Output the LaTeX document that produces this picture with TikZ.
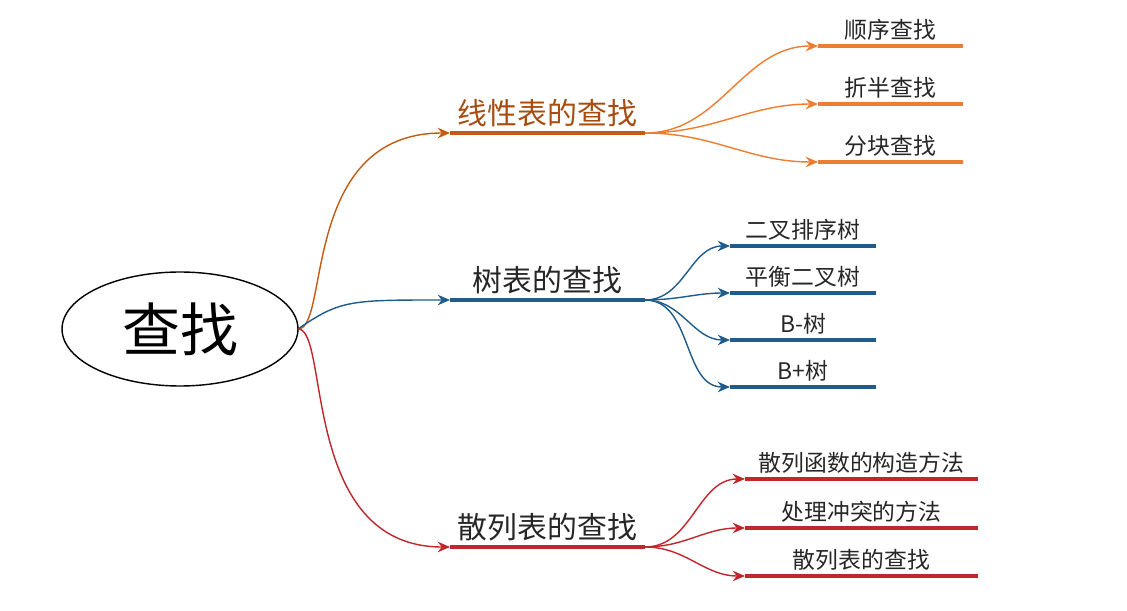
\documentclass[tikz,border=0pt]{standalone}
\usepackage{fontspec}
\setmainfont{Noto Sans CJK SC}
\usetikzlibrary{arrows.meta,shapes.geometric}
\definecolor{orng}{HTML}{ED7D31}
\definecolor{orngd}{HTML}{C55A11}
\definecolor{blu}{HTML}{1F5C8B}
\definecolor{rd}{HTML}{C0272D}
\begin{document}
\begin{tikzpicture}[x=0.02cm,y=-0.02cm,line cap=butt]
	  \tikzstyle{link} = [-{Stealth[length=7pt,width=6pt]},thick]
	  \tikzstyle{bar} = [line width=2.5pt]
	  \tikzstyle{big} = [font=\fontsize{17}{20}\selectfont,anchor=south,inner sep=2pt]
	  \tikzstyle{small} = [font=\fontsize{13}{15}\selectfont,anchor=south,inner sep=2pt]
	  \useasboundingbox (0,0) rectangle (1127,611);
	  \node (0_0) [draw,thick,ellipse,minimum width=4.72cm,minimum height=2.28cm,font=\fontsize{33}{38}\selectfont] at (180,329) {查找};
	  \coordinate (0_1) at (298,329);
	  % level 1
	  \coordinate (1_1) at (450,133); \coordinate (1_1e) at (645,133);
	  \coordinate (1_2) at (450,300); \coordinate (1_2e) at (645,300);
	  \coordinate (1_3) at (450,547); \coordinate (1_3e) at (645,547);
	  \draw[bar,orngd] (1_1) -- (1_1e) node (1_1t) [big,midway,orngd!85!black] {线性表的查找};
	  \draw[bar,blu] (1_2) -- (1_2e) node (1_2t) [big,midway,black!85] {树表的查找};
	  \draw[bar,rd] (1_3) -- (1_3e) node (1_3t) [big,midway,black!85] {散列表的查找};
	  \draw[link,orngd] (0_1) .. controls (330,329) and (300,133) .. (1_1);
	  \draw[link,blu] (0_1) .. controls (340,300) and (350,300) .. (1_2);
	  \draw[link,rd] (0_1) .. controls (330,329) and (300,547) .. (1_3);
	  % level 2
	  \foreach \y/\t [count=\i] in {46/顺序查找,104/折半查找,162/分块查找} {
	    \coordinate (2_\i) at (818,\y);
	    \draw[bar,orng] (2_\i) -- (963,\y) node (2_\i t) [small,midway,black!85] {\t};
	    \draw[link,orng] (1_1e) to[out=0,in=180] (2_\i);
	  }
	  \foreach \y/\t [count=\i] in {246/二叉排序树,293/平衡二叉树,340/B-树,387/B+树} {
	    \coordinate (3_\i) at (730,\y);
	    \draw[bar,blu] (3_\i) -- (876,\y) node (3_\i t) [small,midway,black!85] {\t};
	    \draw[link,blu] (1_2e) to[out=0,in=180] (3_\i);
	  }
	  \foreach \y/\t [count=\i] in {479/散列函数的构造方法,528/处理冲突的方法,576/散列表的查找} {
	    \coordinate (4_\i) at (745,\y);
	    \draw[bar,rd] (4_\i) -- (978,\y) node (4_\i t) [small,midway,black!85] {\t};
	    \draw[link,rd] (1_3e) to[out=0,in=180] (4_\i);
	  }
	\end{tikzpicture}
\end{document}
